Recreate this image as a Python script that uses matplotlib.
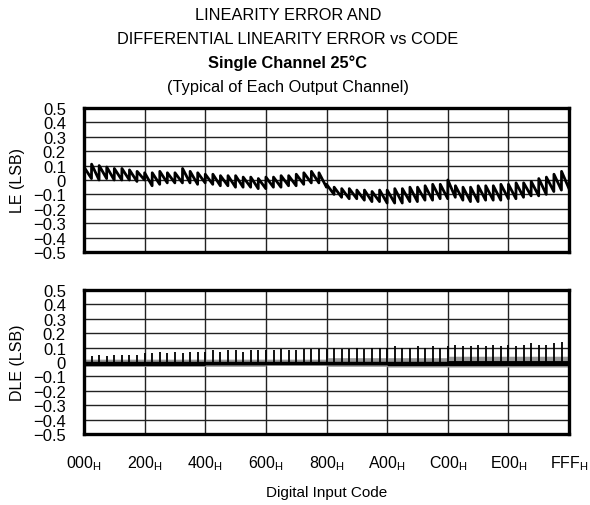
import numpy as np
import matplotlib.pyplot as plt

plt.rcParams['font.family'] = ['Liberation Sans', 'DejaVu Sans']

# LE sawtooth, one tooth per 64 codes: value just after the jump (peak)
# and value at the end of the tooth (trough)
le_peak = [0.09, 0.11, 0.10, 0.09, 0.08, 0.08, 0.07, 0.06,
           0.05, 0.05, 0.06, 0.05, 0.05, 0.08, 0.06, 0.05,
           0.04, 0.04, 0.03, 0.03, 0.03, 0.02, 0.02, 0.01,
           0.02, 0.02, 0.03, 0.03, 0.04, 0.05, 0.06, 0.05,
           -0.03, -0.05, -0.06, -0.06, -0.07, -0.07, -0.08, -0.07,
           -0.07, -0.06, -0.06, -0.05, -0.05, -0.04, -0.03, -0.03,
           0.00, -0.04, -0.05, -0.05, -0.04, -0.04, -0.04, -0.03,
           -0.03, -0.02, -0.02, -0.01, 0.01, 0.02, 0.04, 0.06]
le_trough = [0.01, 0.00, 0.01, 0.00, 0.00, 0.00, -0.01, 0.00,
             -0.04, -0.03, -0.02, -0.02, -0.02, -0.02, -0.03, -0.02,
             -0.03, -0.04, -0.04, -0.05, -0.05, -0.05, -0.06, -0.06,
             -0.05, -0.05, -0.04, -0.04, -0.03, -0.02, -0.02, -0.05,
             -0.10, -0.12, -0.13, -0.13, -0.14, -0.15, -0.15, -0.16,
             -0.16, -0.16, -0.15, -0.15, -0.14, -0.14, -0.13, -0.13,
             -0.12, -0.14, -0.15, -0.15, -0.14, -0.14, -0.14, -0.13,
             -0.13, -0.12, -0.11, -0.11, -0.10, -0.08, -0.07, -0.06]

# DLE: spike height at each 64-code boundary
dle_spike = [0.04, 0.04, 0.05, 0.04, 0.05, 0.05, 0.05, 0.05,
             0.06, 0.06, 0.07, 0.06, 0.07, 0.06, 0.07, 0.07,
             0.07, 0.08, 0.07, 0.08, 0.08, 0.07, 0.08, 0.08,
             0.08, 0.08, 0.09, 0.08, 0.08, 0.09, 0.09, 0.09,
             0.09, 0.10, 0.09, 0.09, 0.10, 0.09, 0.10, 0.10,
             0.10, 0.11, 0.10, 0.10, 0.11, 0.10, 0.11, 0.10,
             0.11, 0.12, 0.11, 0.11, 0.12, 0.11, 0.12, 0.11,
             0.12, 0.11, 0.12, 0.13, 0.12, 0.12, 0.13, 0.14]
# DLE dense band, per 512-code block (upper speckle, core, lower speckle)
dle_top = [0.02, 0.02, 0.02, 0.02, 0.03, 0.03, 0.04, 0.04]
dle_core_top = [0.005, 0.005, 0.005, 0.005, 0.005, 0.005, 0.01, 0.01]
dle_core_bot = [-0.025, -0.025, -0.02, -0.02, -0.02, -0.025, -0.025, -0.025]
dle_bot = [-0.03, -0.03, -0.03, -0.02, -0.03, -0.035, -0.035, -0.035]

tick_codes = [0x000, 0x200, 0x400, 0x600, 0x800, 0xA00, 0xC00, 0xE00, 0xFFF]
tick_names = ['000', '200', '400', '600', '800', 'A00', 'C00', 'E00', 'FFF']
y_ticks = [0.5, 0.4, 0.3, 0.2, 0.1, 0, -0.1, -0.2, -0.3, -0.4, -0.5]

fig = plt.figure(figsize=(5.9, 5.06), dpi=100)

fig.text(0.488, 0.969, 'LINEARITY ERROR AND', ha='center', va='center', fontsize=11.8)
fig.text(0.488, 0.921, 'DIFFERENTIAL LINEARITY ERROR vs CODE', ha='center', va='center',
         fontsize=11.8)
fig.text(0.488, 0.875, 'Single Channel 25\u00b0C', ha='center', va='center', fontsize=11.8,
         fontweight='bold')
fig.text(0.488, 0.828, '(Typical of Each Output Channel)', ha='center', va='center',
         fontsize=11.8)

axLE = fig.add_axes([0.1424, 0.500, 0.822, 0.2846])
axDLE = fig.add_axes([0.1424, 0.1403, 0.822, 0.2846])

# LE trace
xs, ys = [], []
for i, (p, t) in enumerate(zip(le_peak, le_trough)):
  xs += [i * 64, i * 64 + 63]
  ys += [p, t]
axLE.plot(xs, ys, color='black', lw=2.0, solid_joinstyle='round')

# DLE trace
n = len(dle_spike)
band_x = []
b_t, b_ct, b_cb, b_b = [], [], [], []
for k in range(8):
  band_x += [k * 512, (k + 1) * 512 - 1]
  b_t += [dle_top[k]] * 2
  b_ct += [dle_core_top[k]] * 2
  b_cb += [dle_core_bot[k]] * 2
  b_b += [dle_bot[k]] * 2
axDLE.fill_between(band_x, b_b, b_t, color='#9a9a9a', lw=0)
axDLE.fill_between(band_x, b_cb, b_ct, color='black', lw=0)
axDLE.vlines([i * 64 for i in range(1, n)] + [4095], 0, dle_spike[1:] + [dle_spike[0]],
             color='black', lw=1.3)

for ax, lab in ((axLE, 'LE (LSB)'), (axDLE, 'DLE (LSB)')):
  ax.set_xlim(0, 4095)
  ax.set_ylim(-0.5, 0.5)
  ax.set_xticks(tick_codes)
  ax.set_yticks(y_ticks)
  ax.set_yticklabels(['0' if v == 0 else ('%.1f' % v).replace('-', '\u2212') for v in y_ticks],
                     fontsize=12)
  ax.tick_params(length=0, pad=14)
  ax.tick_params(axis='y', pad=13)
  ax.grid(True, color='#222222', lw=1.0)
  ax.set_axisbelow(True)
  for s in ax.spines.values():
    s.set_linewidth(2.4)
  ax.set_ylabel(lab, fontsize=11.5)
  ax.yaxis.set_label_coords(-0.122, 0.5)

axLE.set_xticklabels([])
axDLE.set_xticklabels([nm + '$_\\mathregular{H}$' for nm in tick_names], fontsize=11.5)
axDLE.set_xlabel('Digital Input Code', fontsize=11, labelpad=9)

plt.savefig('out.png', dpi=100)
